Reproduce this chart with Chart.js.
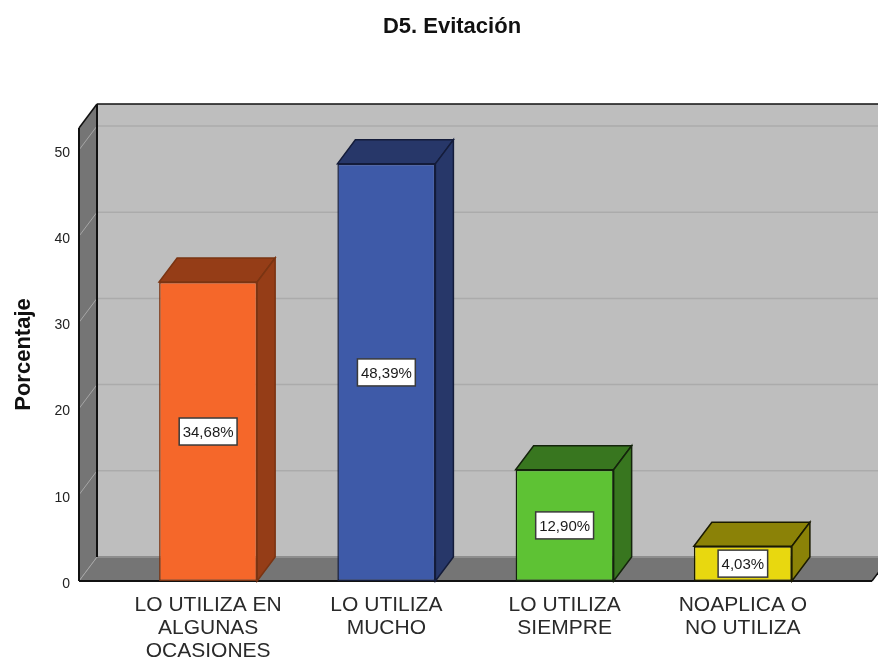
<!DOCTYPE html>
<html>
<head>
<meta charset="utf-8">
<title>D5. Evitación</title>
<script src="https://cdn.jsdelivr.net/npm/chart.js@4"></script>
<style>
  html, body { margin: 0; padding: 0; background: #fff; overflow: hidden; }
  canvas { display: block; }
</style>
</head>
<body>
<canvas id="myChart" width="878" height="657"></canvas>
<script>
var categories = [
    ['LO UTILIZA EN', 'ALGUNAS', 'OCASIONES'],
    ['LO UTILIZA', 'MUCHO'],
    ['LO UTILIZA', 'SIEMPRE'],
    ['NOAPLICA O', 'NO UTILIZA']
];
var values = [34.68, 48.39, 12.90, 4.03];
var valueLabels = ['34,68%', '48,39%', '12,90%', '4,03%'];
var tickStep = 10;
var axisMax = 52.55;

var frontColors = ['#F5672A', '#3E5AA8', '#5EC234', '#E8D80F'];
var sideColors = ['#953D17', '#273769', '#38761F', '#8B8207'];
var edgeColors = ['#7A3412', '#141C3A', '#14240C', '#1A1A00'];

var fontName = '"Liberation Sans", Arial, sans-serif';
var depthX = 18;
var depthY = 24;
var wallOverhang = 40; // walls run past the category band on both sides

// grey walls and floor behind the bars, side and top faces of the bars
var box3d = {
    id: 'box3d',
    afterLayout: function(chart) {
        // title is centred on the plot, not on the padded box
        chart.titleBlock.left = 72;
    },
    beforeDatasetsDraw: function(chart) {
        var c = chart.ctx;
        var a = chart.chartArea;
        var y = chart.scales.y;
        var left = a.left - wallOverhang;
        var right = a.right + wallOverhang;

        function poly(points, fill, stroke, width) {
            c.beginPath();
            c.moveTo(points[0][0], points[0][1]);
            for (var i = 1; i < points.length; i++) c.lineTo(points[i][0], points[i][1]);
            c.closePath();
            if (fill) { c.fillStyle = fill; c.fill(); }
            if (stroke) { c.strokeStyle = stroke; c.lineWidth = width; c.stroke(); }
        }
        function line(x1, y1, x2, y2, color, width) {
            c.beginPath();
            c.moveTo(x1, y1);
            c.lineTo(x2, y2);
            c.strokeStyle = color;
            c.lineWidth = width;
            c.stroke();
        }

        c.save();
        // back wall
        poly([[left + depthX, a.top - depthY], [right + depthX, a.top - depthY],
              [right + depthX, a.bottom - depthY], [left + depthX, a.bottom - depthY]], '#BEBEBE');
        // left wall
        poly([[left, a.top], [left + depthX, a.top - depthY],
              [left + depthX, a.bottom - depthY], [left, a.bottom]], '#757575');
        // floor
        poly([[left, a.bottom], [left + depthX, a.bottom - depthY],
              [right + depthX, a.bottom - depthY], [right, a.bottom]], '#757575');

        // grid lines from the axis ticks
        y.ticks.forEach(function(t) {
            var py = y.getPixelForValue(t.value);
            line(left, py, left + depthX, py - depthY, '#A6A6A6', 1);
            if (t.value > 0) line(left + depthX, py - depthY, right + depthX, py - depthY, '#ABABAB', 1.5);
        });
        line(left + depthX, a.bottom - depthY, right + depthX, a.bottom - depthY, '#8E8E8E', 2);

        // dark edges
        line(left + depthX, a.top - depthY, right + depthX, a.top - depthY, '#111', 1.5);
        line(left + depthX, a.top - depthY, left + depthX, a.bottom - depthY, '#111', 2);
        line(left, a.top, left + depthX, a.top - depthY, '#111', 1.5);
        line(left, a.top, left, a.bottom, '#111', 2);
        line(left, a.bottom, right, a.bottom, '#111', 2);
        line(right, a.bottom, right + depthX, a.bottom - depthY, '#111', 1.5);

        // bar depth
        chart.getDatasetMeta(0).data.forEach(function(bar, i) {
            var l = bar.x - bar.width / 2;
            var r = bar.x + bar.width / 2;
            poly([[l, bar.y], [l + depthX, bar.y - depthY], [r + depthX, bar.y - depthY], [r, bar.y]],
                sideColors[i], edgeColors[i], 1.5);
            poly([[r, bar.y], [r + depthX, bar.y - depthY], [r + depthX, bar.base - depthY], [r, bar.base]],
                sideColors[i], edgeColors[i], 1.5);
        });
        c.restore();
    },
    afterDatasetsDraw: function(chart) {
        var c = chart.ctx;
        c.save();
        c.font = '15px ' + fontName;
        c.textAlign = 'center';
        c.textBaseline = 'middle';
        chart.getDatasetMeta(0).data.forEach(function(bar, i) {
            var w = c.measureText(valueLabels[i]).width + 7;
            var h = 27;
            var cy = (bar.y + bar.base) / 2;
            c.fillStyle = '#fff';
            c.strokeStyle = '#3A3A3A';
            c.lineWidth = 1.5;
            c.fillRect(bar.x - w / 2, cy - h / 2, w, h);
            c.strokeRect(bar.x - w / 2, cy - h / 2, w, h);
            c.fillStyle = '#1A1A1A';
            c.fillText(valueLabels[i], bar.x, cy + 1);
        });
        c.restore();
    }
};

var ctx = document.getElementById('myChart').getContext('2d');
var chart = new Chart(ctx, {
    type: 'bar',
    data: {
        labels: categories,
        datasets: [{
            data: values,
            backgroundColor: frontColors,
            borderColor: edgeColors,
            borderWidth: 1.5,
            borderSkipped: false,
            categoryPercentage: 1,
            barPercentage: 0.55
        }]
    },
    options: {
        responsive: false,
        animation: false,
        layout: { padding: { right: 46 } },
        plugins: {
            legend: { display: false },
            tooltip: { enabled: false },
            title: {
                display: true,
                text: 'D5. Evitación',
                color: '#111',
                font: { family: fontName, size: 22, weight: 'bold' },
                padding: { top: 14, bottom: 87.6 }
            }
        },
        scales: {
            x: {
                afterFit: function(scale) { scale.height = 76; },
                grid: { display: false, drawTicks: false },
                border: { display: false },
                ticks: {
                    color: '#2A2A2A',
                    padding: 13,
                    autoSkip: false,
                    maxRotation: 0,
                    font: { family: fontName, size: 21, lineHeight: 1.09 }
                }
            },
            y: {
                min: 0,
                max: axisMax,
                afterFit: function(scale) { scale.width = 119; },
                grid: { display: false, drawTicks: false },
                border: { display: false },
                title: {
                    display: true,
                    text: 'Porcentaje',
                    color: '#111',
                    padding: { top: 11, bottom: 0 },
                    font: { family: fontName, size: 22, weight: 'bold' }
                },
                ticks: {
                    stepSize: tickStep,
                    includeBounds: false,
                    color: '#222',
                    padding: 49,
                    labelOffset: 3,
                    font: { family: fontName, size: 14 }
                }
            }
        }
    },
    plugins: [box3d]
});
</script>
</body>
</html>
